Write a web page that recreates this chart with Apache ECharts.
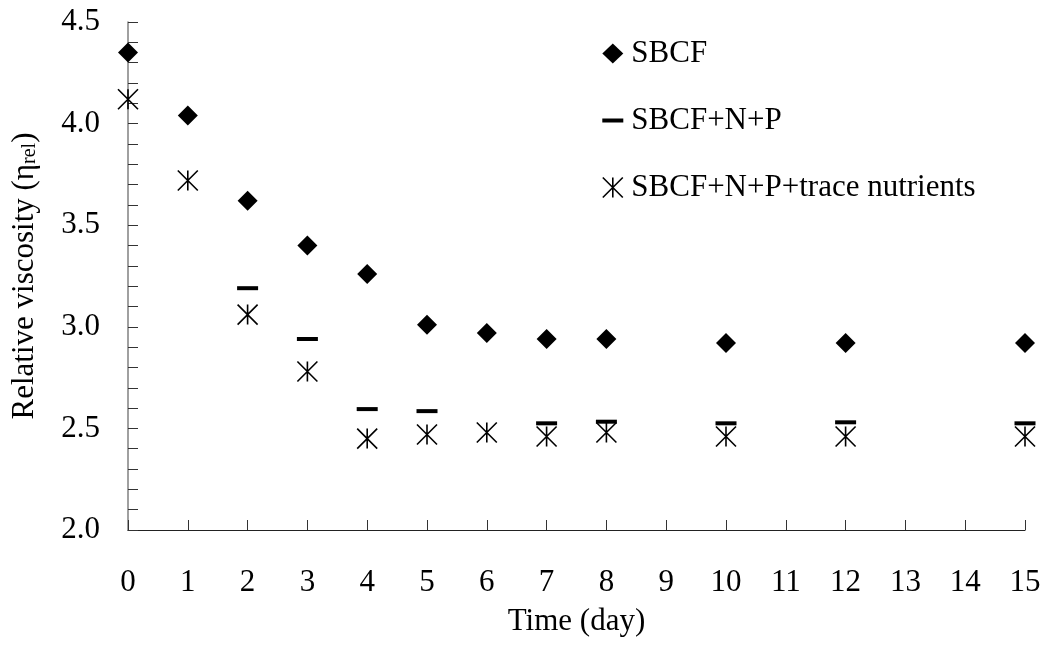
<!DOCTYPE html>
<html>
<head>
<meta charset="utf-8">
<script src="https://cdn.jsdelivr.net/npm/echarts@6/dist/echarts.min.js"></script>
<style>
    html, body { margin: 0; padding: 0; background: #fff; }
    #chart { width: 1046px; height: 646px; }
</style>
</head>
<body>
<div id="chart"></div>
<script>
    // days and measured relative viscosity
    var days = [0, 1, 2, 3, 4, 5, 6, 7, 8, 10, 12, 15];
    var sbcf = [4.35, 4.04, 3.62, 3.40, 3.26, 3.01, 2.97, 2.94, 2.94, 2.92, 2.92, 2.92];
    var sbcfNP = [null, null, 3.19, 2.94, 2.595, 2.585, null, 2.525, 2.533, 2.525, 2.53, 2.525];
    var sbcfNPTrace = [4.12, 3.72, 3.06, 2.78, 2.45, 2.47, 2.48, 2.46, 2.48, 2.46, 2.46, 2.46];
    var names = ['SBCF', 'SBCF+N+P', 'SBCF+N+P+trace nutrients'];

    var font = 'Liberation Serif';
    var fs = 31;
    var starPath = 'path://M0,0L20,20M20,0L0,20M10,0L10,20';
    var dashPath = 'path://M0,0L21,0L21,4L0,4Z';

    function pairs(vals) {
        var out = [];
        for (var i = 0; i < days.length; i++) {
            if (vals[i] != null) out.push([days[i], vals[i]]);
        }
        return out;
    }

    var chart = echarts.init(document.getElementById('chart'));
    chart.setOption({
        animation: false,
        backgroundColor: '#fff',
        grid: { left: 128, right: 21, top: 22, bottom: 116, containLabel: false },
        legend: {
            orient: 'vertical',
            left: 602,
            top: 38,
            padding: 0,
            itemGap: 36,
            itemWidth: 21,
            itemHeight: 20,
            textStyle: { fontFamily: font, fontSize: fs, color: '#000', padding: [0, 0, 0, 3] },
            data: [
                { name: names[0], icon: 'diamond', itemStyle: { color: '#000', opacity: 1 } },
                { name: names[1], icon: dashPath, itemStyle: { color: '#000', opacity: 1 } },
                { name: names[2], icon: starPath, itemStyle: { color: 'transparent', borderColor: '#000', borderWidth: 1.6, opacity: 1 } }
            ]
        },
        xAxis: {
            type: 'value',
            min: 0,
            max: 15,
            interval: 1,
            name: 'Time (day)',
            nameLocation: 'middle',
            nameGap: 76,
            nameTextStyle: { fontFamily: font, fontSize: fs, color: '#000' },
            axisLine: { lineStyle: { color: '#222', width: 1.2 } },
            axisTick: { inside: true, length: 10, lineStyle: { color: '#333' } },
            axisLabel: { margin: 37, fontFamily: font, fontSize: fs, color: '#000' },
            splitLine: { show: false }
        },
        yAxis: {
            type: 'value',
            min: 2,
            max: 4.5,
            interval: 0.5,
            name: '{a|Relative viscosity (η}{b|rel}{a|)}',
            nameLocation: 'middle',
            nameGap: 88,
            nameTextStyle: {
                rich: {
                    a: { fontFamily: font, fontSize: fs, color: '#000' },
                    b: { fontFamily: font, fontSize: 20, color: '#000', verticalAlign: 'bottom' }
                }
            },
            axisLine: { show: true, lineStyle: { color: '#808080', width: 1.5 } },
            axisTick: { inside: true, length: 10, lineStyle: { color: '#333' } },
            minorTick: { show: true, splitNumber: 5, length: 10, lineStyle: { color: '#333' } },
            axisLabel: {
                margin: 28, fontFamily: font, fontSize: fs, color: '#000',
                formatter: function (v) { return v.toFixed(1); }
            },
            splitLine: { show: false }
        },
        series: [
            {
                name: names[0],
                type: 'scatter',
                symbol: 'diamond',
                symbolSize: 20,
                itemStyle: { color: '#000', opacity: 1 },
                emphasis: { disabled: true },
                data: pairs(sbcf)
            },
            {
                name: names[1],
                type: 'scatter',
                symbol: dashPath,
                symbolSize: [21, 4],
                itemStyle: { color: '#000', opacity: 1 },
                emphasis: { disabled: true },
                data: pairs(sbcfNP)
            },
            {
                name: names[2],
                type: 'scatter',
                symbol: starPath,
                symbolSize: 20,
                itemStyle: { color: 'transparent', borderColor: '#000', borderWidth: 1.6, opacity: 1 },
                emphasis: { disabled: true },
                data: pairs(sbcfNPTrace)
            }
        ]
    });
</script>
</body>
</html>
